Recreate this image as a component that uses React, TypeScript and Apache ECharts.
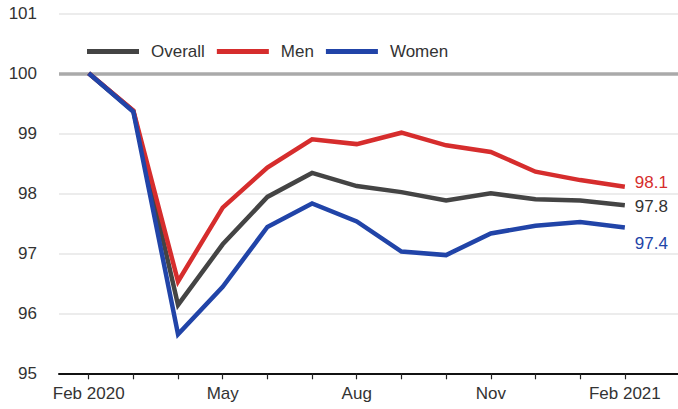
import React, { useEffect, useRef } from "react";
import * as echarts from "echarts";

const months = ["Feb 2020", "Mar", "Apr", "May", "Jun", "Jul", "Aug", "Sep", "Oct", "Nov", "Dec", "Jan", "Feb 2021"];
const labelledMonths = [0, 3, 6, 9, 12];
const labelText: Record<number, string> = { 0: "Feb 2020", 3: "May", 6: "Aug", 9: "Nov", 12: "Feb 2021" };
const overall = [100, 99.37, 96.14, 97.15, 97.94, 98.34, 98.12, 98.02, 97.88, 98.0, 97.9, 97.88, 97.8];
const men = [100, 99.38, 96.53, 97.76, 98.43, 98.9, 98.82, 99.01, 98.8, 98.69, 98.36, 98.22, 98.11];
const women = [100, 99.36, 95.65, 96.44, 97.44, 97.83, 97.53, 97.03, 96.97, 97.33, 97.46, 97.52, 97.43];
const yTicks = [95, 96, 97, 98, 99, 100, 101];

const FONT = "'Liberation Sans', Arial, sans-serif";

export default function App() {
  const ref = useRef<HTMLDivElement>(null);
  useEffect(() => {
    if (!ref.current) return;
    const chart = echarts.init(ref.current, undefined, { renderer: "svg" });
    const toPairs = (arr: number[]) => arr.map((v, i) => [i, v]);
    const mkSeries = (name: string, arr: number[], color: string, labelColor: string, offset: number[]) => ({
      name,
      type: "line",
      data: toPairs(arr),
      showSymbol: false,
      symbol: "none",
      lineStyle: { color, width: 4.5, join: "miter" },
      itemStyle: { color },
      endLabel: {
        show: true,
        formatter: (p: any) => Number(p.value[1]).toFixed(1),
        color: labelColor,
        fontSize: 17,
        fontFamily: FONT,
        distance: 10,
        offset,
      },
    });
    chart.setOption({
      animation: false,
      textStyle: { fontFamily: FONT },
      grid: { left: 59, right: 0, top: 13.3, bottom: 35.7, containLabel: false },
      legend: {
        left: 82,
        top: 38,
        icon: "rect",
        itemWidth: 52,
        itemHeight: 5,
        itemGap: 12,
        textStyle: { fontSize: 17, color: "#333", fontFamily: FONT, padding: [0, 0, 0, 7] },
        data: ["Overall", "Men", "Women"],
      },
      xAxis: {
        type: "value",
        min: -0.664,
        max: 13.19,
        splitLine: { show: false },
        axisLine: { show: true, lineStyle: { color: "#111", width: 2 } },
        axisTick: {
          show: true,
          customValues: months.map((_, i) => i),
          length: 6,
          lineStyle: { color: "#222", width: 1.2 },
        },
        axisLabel: {
          customValues: labelledMonths,
          formatter: (v: number) => labelText[Math.round(v)] ?? months[Math.round(v)],
          fontSize: 17,
          color: "#333",
          margin: 12,
          fontFamily: FONT,
        },
      },
      yAxis: {
        type: "value",
        min: yTicks[0],
        max: yTicks[yTicks.length - 1],
        interval: 1,
        axisLine: { show: false },
        axisTick: { show: false },
        axisLabel: { fontSize: 17, color: "#333", margin: 22, fontFamily: FONT },
        splitLine: { show: true, lineStyle: { color: "#e6e6e6", width: 1.5 } },
      },
      series: [
        {
          ...mkSeries("Overall", overall, "#444444", "#333333", [0, 1]),
          markLine: {
            silent: true,
            symbol: "none",
            label: { show: false },
            lineStyle: { color: "#aaaaaa", width: 3.5, type: "solid" },
            data: [{ yAxis: 100 }],
            z: 1,
          },
        },
        mkSeries("Men", men, "#d62d2d", "#d62d2d", [0, -4]),
        mkSeries("Women", women, "#2144a8", "#2144a8", [0, 16]),
      ],
    });
    return () => chart.dispose();
  }, []);
  return <div ref={ref} style={{ width: 678, height: 409, position: "absolute", left: 0, top: 0 }} />;
}
